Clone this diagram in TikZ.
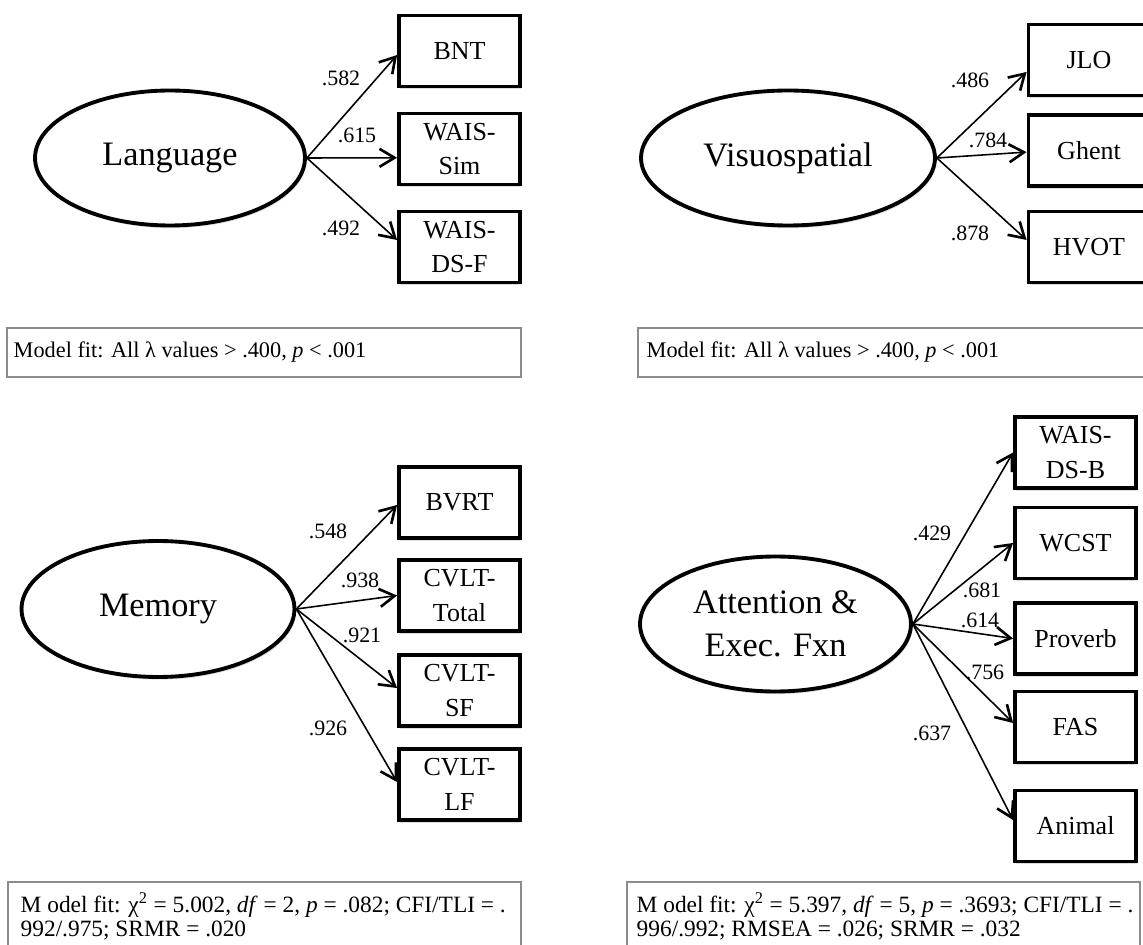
\documentclass[tikz,border=0pt]{standalone}
\usepackage{fontspec}
\setmainfont{Liberation Serif}
\usetikzlibrary{shapes.geometric,arrows.meta,shadows}

\tikzset{
  factor/.style={ellipse,draw,line width=2.2pt,fill=white,inner sep=0pt,
    minimum height=2.7cm,align=center,font=\fontsize{19.5}{24.5}\selectfont,
    drop shadow={opacity=.25,shadow xshift=.8pt,shadow yshift=-1.5pt}},
  indicator/.style={rectangle,draw,line width=2.2pt,fill=white,inner sep=0pt,
    minimum width=2.42cm,minimum height=1.42cm,align=center,
    font=\fontsize{14.8}{19.8}\selectfont,
    drop shadow={opacity=.25,shadow xshift=.8pt,shadow yshift=-1.5pt}},
  loading/.style={line width=.9pt,
    -{Straight Barb[length=3mm,width=3.6mm,line width=1.5pt]}},
  weight/.style={inner sep=0pt,font=\fontsize{12.5}{15}\selectfont},
  fitbox/.style={draw=black!45,line width=.7pt},
  fittext/.style={inner sep=0pt,align=left,font=\fontsize{13.3}{13.6}\selectfont},
}

\begin{document}
\begin{tikzpicture}[x=0.02cm,y=-0.02cm,thick]
  \clip (0,0) rectangle (1143,945);

  % language
  %nodes
  \node[factor,minimum width=5.4cm,at={(170,158)}](lang){Language};
  \node[indicator,at={(459.5,51)}](bnt){BNT};
  \node[indicator,at={(459.5,149)}](wsim){WAIS-\\Sim};
  \node[indicator,at={(459.5,247)}](wdsf){WAIS-\\DS-F};
  %edges
  \draw[loading] (lang.east) -- ([yshift=-2.3pt]bnt.west);
  \draw[loading] (lang.east) -- ([yshift=-5pt]wsim.west);
  \draw[loading] (lang.east) -- ([yshift=4pt]wdsf.west);
  %labels
  \node[weight,at={(341,78)}](w582){.582};
  \node[weight,at={(357,135)}](w615){.615};
  \node[weight,at={(341,228)}](w492){.492};
  \draw[fitbox] (7,328) rectangle (521,377);
  \node[fittext,font=\fontsize{12.7}{14}\selectfont,anchor=west,at={(13,352)}](fitlang){Model fit: All λ values > .400, \textit{p} < .001};

  % visuospatial
  %nodes
  \node[factor,minimum width=5.88cm,at={(788,158)}](visuo){Visuospatial};
  \node[indicator,at={(1089,60)}](jlo){JLO};
  \node[indicator,at={(1089,150.5)}](ghent){Ghent};
  \node[indicator,at={(1089,247)}](hvot){HVOT};
  %edges
  \draw[loading] (visuo.east) -- ([yshift=-6.8pt]jlo.west);
  \draw[loading] (visuo.east) -- ([yshift=-.9pt]ghent.west);
  \draw[loading] (visuo.east) -- ([yshift=4pt]hvot.west);
  %labels
  \node[weight,at={(970,80)}](w486){.486};
  \node[weight,at={(988,140)}](w784){.784};
  \node[weight,at={(970,233)}](w878){.878};
  \draw[fitbox] (638,328) rectangle (1150,377);
  \node[fittext,font=\fontsize{12.7}{14}\selectfont,anchor=west,at={(646,352)}](fitvisuo){Model fit: All λ values > .400, \textit{p} < .001};

  % memory
  %nodes
  \node[factor,minimum width=5.46cm,minimum height=2.72cm,at={(158,609)}](mem){Memory};
  \node[indicator,at={(459.5,502.5)}](bvrt){BVRT};
  \node[indicator,at={(459.5,595.5)}](ctot){CVLT-\\Total};
  \node[indicator,at={(459.5,690.5)}](csf){CVLT-\\SF};
  \node[indicator,at={(459.5,784.5)}](clf){CVLT-\\LF};
  %edges
  \draw[loading] (mem.east) -- ([yshift=-1.4pt]bvrt.west);
  \draw[loading] (mem.east) -- (ctot.west);
  \draw[loading] (mem.east) -- ([yshift=1.4pt]csf.west);
  \draw[loading] (mem.east) -- ([yshift=1.4pt]clf.west);
  %labels
  \node[weight,at={(328,531)}](w548){.548};
  \node[weight,at={(360,580)}](w938){.938};
  \node[weight,at={(362,635)}](w921){.921};
  \node[weight,at={(328,728)}](w926){.926};
  \draw[fitbox] (8,882) rectangle (521,960);
  \node[fittext,anchor=north west,at={(20,892)}](fitmem){M odel fit: χ\textsuperscript{2} = 5.002, \textit{df} = 2, \textit{p} = .082; CFI/TLI = .\\992/.975; SRMR = .020};

  % attention
  %nodes
  \node[factor,minimum width=5.42cm,at={(775.5,624)}](att){Attention \&\\Exec. Fxn};
  \node[indicator,at={(1075.5,452.5)}](wdsb){WAIS-\\DS-B};
  \node[indicator,at={(1075.5,543)}](wcst){WCST};
  \node[indicator,at={(1075.5,638.5)}](prov){Proverb};
  \node[indicator,at={(1075.5,727)}](fas){FAS};
  \node[indicator,at={(1075.5,826)}](anim){Animal};
  %edges
  \draw[loading] (att.east) -- (wdsb.west);
  \draw[loading] (att.east) -- (wcst.west);
  \draw[loading] (att.east) -- (prov.west);
  \draw[loading] (att.east) -- ([yshift=2.3pt]fas.west);
  \draw[loading] (att.east) -- ([yshift=3.4pt]anim.west);
  %labels
  \node[weight,at={(932,533)}](w429){.429};
  \node[weight,at={(982,590)}](w681){.681};
  \node[weight,at={(980,620)}](w614){.614};
  \node[weight,at={(985,672)}](w756){.756};
  \node[weight,at={(932,733)}](w637){.637};
  \draw[fitbox] (627,882) rectangle (1140,960);
  \node[fittext,anchor=north west,at={(636,892)}](fitatt){M odel fit: χ\textsuperscript{2} = 5.397, \textit{df} = 5, \textit{p} = .3693; CFI/TLI = .\\996/.992; RMSEA = .026; SRMR = .032};
\end{tikzpicture}
\end{document}
